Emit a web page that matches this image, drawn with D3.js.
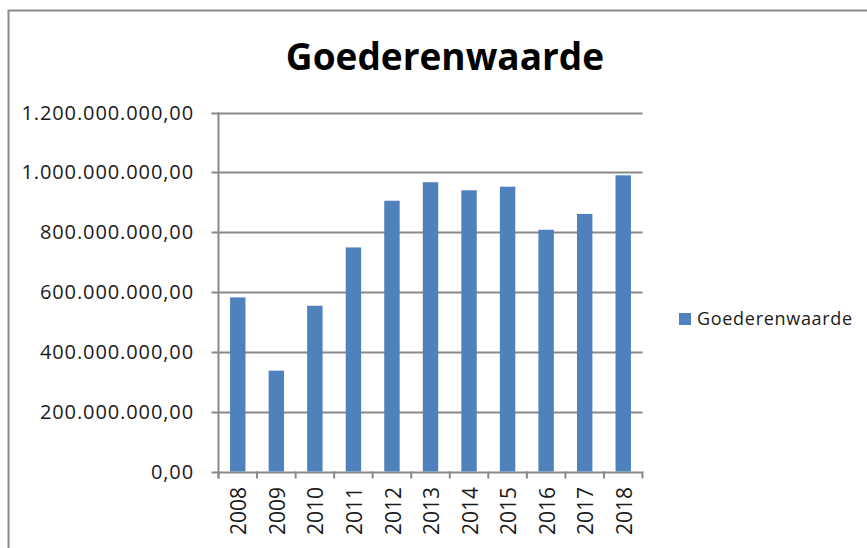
<!DOCTYPE html>
<html>
<head>
<meta charset="utf-8">
<script src="https://cdn.jsdelivr.net/npm/d3@7"></script>
<style>
  html, body { margin: 0; padding: 0; background: #fff; }
  svg { display: block; }
</style>
</head>
<body>
<svg id="chart" width="867" height="548"></svg>
<script>
const categories = ["2008","2009","2010","2011","2012","2013","2014","2015","2016","2017","2018"];
const values = [582e6, 337e6, 554e6, 749e6, 905e6, 967e6, 940e6, 952e6, 808e6, 861e6, 990e6];
const yTicks = [0, 200e6, 400e6, 600e6, 800e6, 1000e6, 1200e6];
const seriesName = "Goederenwaarde";
const chartTitle = "Goederenwaarde";

(function () {
const svg = d3.select("#chart");
const font = "'Open Sans', sans-serif";
const gridColor = "#898989";

// outer frame
svg.append("path")
  .attr("d", "M8.5,548 L8.5,10.5 L867,10.5")
  .attr("fill", "none").attr("stroke", gridColor).attr("stroke-width", 2);

const pLeft = 218.5, pRight = 642.5, pTop = 112.5, pBottom = 471.5;

const x = d3.scaleBand().domain(categories).range([pLeft, pRight])
  .paddingInner(0.6).paddingOuter(0.3);
const xEdge = d3.scaleBand().domain(categories).range([pLeft, pRight]).padding(0);
const y = d3.scaleLinear().domain([0, 1.2e9]).range([pBottom, pTop]);

const nl = d3.formatLocale({decimal: ",", thousands: ".", grouping: [3], currency: ["", ""]});
const fmt = nl.format(",.2f");

// gridlines
svg.append("g").selectAll("line").data(yTicks).join("line")
  .attr("x1", pLeft - 7).attr("x2", pRight)
  .attr("y1", d => Math.round(y(d)) + 0.5).attr("y2", d => Math.round(y(d)) + 0.5)
  .attr("stroke", gridColor).attr("stroke-width", 2);

// y axis line
svg.append("line").attr("x1", pLeft).attr("x2", pLeft)
  .attr("y1", pTop).attr("y2", pBottom + 7)
  .attr("stroke", gridColor).attr("stroke-width", 2);

// x ticks at band edges
const edges = categories.map(c => xEdge(c)).concat([pRight]);
svg.append("g").selectAll("line").data(edges).join("line")
  .attr("x1", d => d).attr("x2", d => d)
  .attr("y1", pBottom).attr("y2", pBottom + 7)
  .attr("stroke", gridColor).attr("stroke-width", 2);

// y labels
svg.append("g").selectAll("text").data(yTicks).join("text")
  .attr("x", 194).attr("y", d => y(d)).attr("dy", "0.35em")
  .attr("text-anchor", "end")
  .attr("font-family", font).attr("font-size", 20).attr("letter-spacing", 0.9)
  .attr("fill", "#1a1a1a")
  .text(d => fmt(d));

// bars
svg.append("g").selectAll("rect").data(values).join("rect")
  .attr("x", (d, i) => x(categories[i]))
  .attr("width", x.bandwidth())
  .attr("y", d => y(d))
  .attr("height", d => pBottom - y(d))
  .attr("fill", "#4F81BD");

// x labels
svg.append("g").selectAll("text").data(categories).join("text")
  .attr("transform", d => `translate(${x(d) + x.bandwidth() / 2 + 1},487) rotate(-90)`)
  .attr("dy", "0.36em")
  .attr("text-anchor", "end")
  .attr("font-family", font).attr("font-size", 21)
  .attr("fill", "#1a1a1a")
  .text(d => d);

// title
svg.append("text")
  .attr("x", 445).attr("y", 70)
  .attr("text-anchor", "middle")
  .attr("font-family", font).attr("font-weight", "bold").attr("font-size", 37)
  .attr("fill", "#000")
  .text(chartTitle);

// legend
svg.append("rect").attr("x", 679).attr("y", 313).attr("width", 12).attr("height", 12)
  .attr("fill", "#4F81BD");
svg.append("text").attr("x", 697).attr("y", 319).attr("dy", "0.35em")
  .attr("font-family", font).attr("font-size", 18).attr("letter-spacing", 0.7)
  .attr("fill", "#1a1a1a")
  .text(seriesName);
})();
</script>
</body>
</html>
